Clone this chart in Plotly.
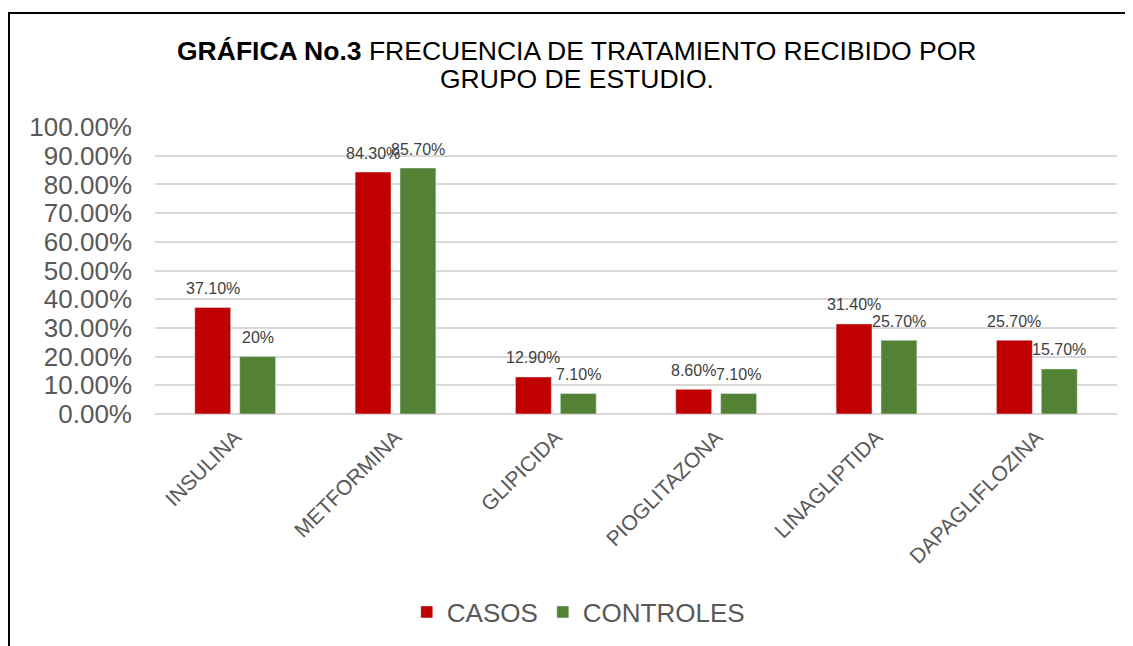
import plotly.graph_objects as go

categorias = ["INSULINA", "METFORMINA", "GLIPICIDA", "PIOGLITAZONA", "LINAGLIPTIDA", "DAPAGLIFLOZINA"]
casos = [37.1, 84.3, 12.9, 8.6, 31.4, 25.7]
controles = [20.0, 85.7, 7.1, 7.1, 25.7, 15.7]
etiquetas_casos = ["37.10%", "84.30%", "12.90%", "8.60%", "31.40%", "25.70%"]
etiquetas_controles = ["20%", "85.70%", "7.10%", "7.10%", "25.70%", "15.70%"]
ticks_y = [0, 10, 20, 30, 40, 50, 60, 70, 80, 90, 100]
ticks_y_txt = ["0.00%", "10.00%", "20.00%", "30.00%", "40.00%", "50.00%",
               "60.00%", "70.00%", "80.00%", "90.00%", "100.00%"]

ROJO = "#C00000"
VERDE = "#548235"
GRIS = "#595959"
FUENTE = "Liberation Sans, Arial, sans-serif"

fig = go.Figure()
fig.add_trace(go.Bar(x=categorias, y=casos, name="CASOS", marker_color=ROJO))
fig.add_trace(go.Bar(x=categorias, y=controles, name="CONTROLES", marker_color=VERDE))

# etiquetas de datos, un poco por encima de cada barra (como en Excel)
for serie, textos, dx in [(casos, etiquetas_casos, -22.5), (controles, etiquetas_controles, 22.5)]:
    for c, v, t in zip(categorias, serie, textos):
        fig.add_annotation(x=c, y=v, text=t, showarrow=False, xshift=dx, yshift=19,
                           yanchor="middle", font=dict(size=16, color="#404040", family=FUENTE))

# titulo en dos lineas
fig.add_annotation(xref="paper", yref="paper", x=0.4387, y=1.2648, showarrow=False,
                   text="<b>GRÁFICA No.3</b> FRECUENCIA DE TRATAMIENTO RECIBIDO POR",
                   xanchor="center", yanchor="middle", font=dict(size=26.5, color="black", family=FUENTE))
fig.add_annotation(xref="paper", yref="paper", x=0.4387, y=1.1672, showarrow=False,
                   text="GRUPO DE ESTUDIO.",
                   xanchor="center", yanchor="middle", font=dict(size=26.5, color="black", family=FUENTE))

# marco negro del recuadro
fig.add_shape(type="rect", xref="paper", yref="paper", x0=-0.1518, x1=1.2, y0=-1.2, y1=1.397,
              line=dict(color="black", width=2), layer="above")

fig.update_layout(
    width=1125, height=638,
    margin=dict(l=147, r=16, t=119, b=232, autoexpand=False),
    paper_bgcolor="white", plot_bgcolor="white",
    barmode="group", bargap=0.44, bargroupgap=0.2,
    font=dict(family=FUENTE, color=GRIS),
    legend=dict(orientation="h", x=0.44, xanchor="center", y=-0.69, yanchor="middle",
                font=dict(size=26, color=GRIS), itemwidth=30),
    showlegend=True,
)
fig.update_xaxes(tickangle=-45, tickfont=dict(size=21, color=GRIS), showline=False, ticks="",
                 automargin=False, ticklabelstandoff=6)
fig.update_yaxes(range=[0, 100], tickvals=ticks_y, ticktext=ticks_y_txt,
                 tickfont=dict(size=26, color=GRIS), gridcolor="#D9D9D9", gridwidth=1.5,
                 zeroline=True, zerolinecolor="#D9D9D9", zerolinewidth=1.5, ticks="",
                 automargin=False, ticklabelstandoff=22)

fig.write_html("out.html")
